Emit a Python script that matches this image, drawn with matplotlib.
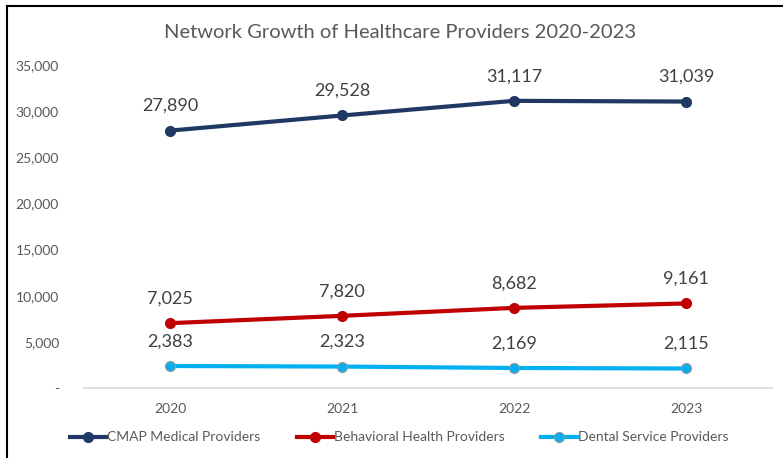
import matplotlib
matplotlib.use("Agg")
import matplotlib.pyplot as plt
from matplotlib.ticker import FuncFormatter
from matplotlib.lines import Line2D

plt.rcParams['font.family'] = ['Lato', 'DejaVu Sans']

years = ["2020", "2021", "2022", "2023"]
cmap_medical = [27890, 29528, 31117, 31039]
behavioral = [7025, 7820, 8682, 9161]
dental = [2383, 2323, 2169, 2115]
series_names = ["CMAP Medical Providers", "Behavioral Health Providers", "Dental Service Providers"]
series_colors = ["#1F3864", "#C00000", "#00B0F0"]
y_ticks = [0, 5000, 10000, 15000, 20000, 25000, 30000, 35000]

text_gray = "#595959"

fig = plt.figure(figsize=(7.83, 4.58), dpi=100)
ax = fig.add_axes([84 / 783, 70 / 458, 688 / 783, 323 / 458])

x = list(range(len(years)))
for vals, name, col in zip([cmap_medical, behavioral, dental], series_names, series_colors):
    edge = "#7F9BAA" if col == "#00B0F0" else col
    ax.plot(x, vals, color=col, lw=3, marker="o", ms=7, mfc=col, mec=edge, mew=1,
            label=name, solid_capstyle="round")
    for xi, v in zip(x, vals):
        ax.annotate(f"{v:,}", (xi, v), xytext=(0, 12), textcoords="offset points",
                    ha="center", va="bottom", fontsize=13, color="#404040")

ax.set_xlim(-0.5, len(years) - 0.5)
ax.set_ylim(0, 35000)
ax.set_yticks(y_ticks)
ax.yaxis.set_major_formatter(FuncFormatter(lambda v, p: "-" if v == 0 else f"{int(v):,}"))
ax.set_xticks(x)
ax.set_xticklabels(years)
ax.tick_params(axis="both", length=0, labelsize=10, colors=text_gray)
ax.tick_params(axis="y", pad=18)
ax.tick_params(axis="x", pad=11)
for s in ["top", "right", "left"]:
    ax.spines[s].set_visible(False)
ax.spines["bottom"].set_color("#D9D9D9")
ax.spines["bottom"].set_linewidth(1.2)

fig.text(0.511, 0.928, "Network Growth of Healthcare Providers 2020-2023",
         ha="center", va="center", fontsize=14.5, color=text_gray)

handles = [Line2D([0], [0], color=c, lw=3, marker="o", ms=7, mfc=c,
                  mec=("#7F9BAA" if c == "#00B0F0" else c)) for c in series_colors]
fig.legend(handles, series_names, loc="center", bbox_to_anchor=(0.51, 0.045), ncol=3,
           frameon=False, fontsize=10, labelcolor=text_gray, handlelength=2.6,
           handletextpad=0.1, columnspacing=2.6)

# frame border on top and left edges
fig.add_artist(Line2D([7 / 783, 7 / 783], [0, 1 - 6 / 458], color="black", lw=1.5,
                      transform=fig.transFigure))
fig.add_artist(Line2D([7 / 783, 1], [1 - 6 / 458, 1 - 6 / 458], color="black", lw=1.5,
                      transform=fig.transFigure))

fig.savefig("out.png", dpi=100, facecolor="white")
